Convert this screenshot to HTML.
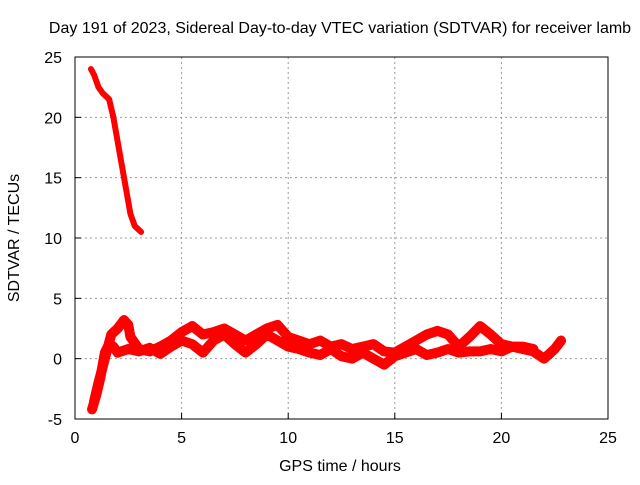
<!DOCTYPE html>
<html><head><meta charset="utf-8"><style>
body{margin:0;background:#fff}
svg{font-family:"Liberation Sans",sans-serif;font-size:16px}
</style></head><body>
<svg id="c" width="640" height="480">
<text x="340" y="33" text-anchor="middle">Day 191 of 2023, Sidereal Day-to-day VTEC variation (SDTVAR) for receiver lamb</text>
<text x="340" y="471" text-anchor="middle">GPS time / hours</text>
<text transform="translate(19,238) rotate(-90)" text-anchor="middle">SDTVAR / TECUs</text>
<g id="grid"></g><g id="marks"></g>
<rect x="75" y="57" width="533" height="362" fill="none" stroke="#000" stroke-width="1"/>
</svg>
<script>
const xTicks=[0,5,10,15,20,25];
const yTicks=[-5,0,5,10,15,20,25];
const tA=[0.75,0.9,1.1,1.3,1.6,1.8,2.0,2.2,2.4,2.6,2.8,3.1];
const vA=[24,23.5,22.5,22,21.5,20,18,16,14,12,11,10.5];
const tB=[0.8,1.0,1.2,1.4,1.6,1.8,2.0,2.5,3.0,3.5,4.0,4.5,5.0,5.5,6.0,6.5,7.0,7.5,8.0,8.5,9.0,9.5,10,10.5,11,11.5,12,12.5,13,13.5,14,14.5,15,15.5,16,16.5,17,17.5,18,18.5,19,19.5,20,20.5,21,21.5,22,22.5,22.8];
const vB=[-4.2,-3,-1.5,0.5,1.2,1.0,0.5,0.8,0.6,0.9,0.4,1.0,1.5,1.2,0.5,1.5,2.0,1.2,0.5,1.2,2.0,1.5,1.0,0.8,0.5,0.3,0.8,0.2,0.0,0.5,0.0,-0.5,0.2,0.5,0.8,0.3,0.5,0.8,0.5,0.6,0.6,0.8,0.6,1.0,0.8,0.6,0.0,0.8,1.5];
const tC=[0.9,1.1,1.4,1.7,2.0,2.3,2.5,2.6,3.0,3.5,4.0,4.5,5.0,5.5,6.0,6.5,7.0,7.5,8,8.5,9,9.5,10,10.5,11,11.5,12,12.5,13,13.5,14,14.5,15,15.5,16,16.5,17,17.5,18,18.5,19,19.5,20,20.5,21,21.5];
const vC=[-3.5,-2,0,2,2.5,3.2,2.8,1.8,0.8,0.6,1.0,1.5,2.2,2.7,2.0,2.2,2.5,2.0,1.5,2.0,2.5,2.8,1.8,1.5,1.2,1.5,1.0,1.2,0.8,1.0,1.2,0.6,0.5,1.0,1.5,2.0,2.3,2.0,1.0,1.8,2.7,2.0,1.2,1.0,1.0,0.8];
const X=v=>75+v*533/25, Y=v=>419-(v+5)*362/30;
const ns="http://www.w3.org/2000/svg";
const g=document.getElementById('grid'), m=document.getElementById('marks');
xTicks.forEach(t=>{
 if(t>0&&t<25){const l=document.createElementNS(ns,'line');
 
 
 l.setAttribute('x1',X(t));l.setAttribute('x2',X(t));l.setAttribute('y1',57);l.setAttribute('y2',419);
 l.setAttribute('stroke','#999');l.setAttribute('stroke-dasharray','2,3');g.appendChild(l);}
 const k=document.createElementNS(ns,'line');
 
 
 k.setAttribute('x1',X(t));k.setAttribute('x2',X(t));k.setAttribute('y1',419);k.setAttribute('y2',413);k.setAttribute('stroke','#000');g.appendChild(k);
 const s=document.createElementNS(ns,'text');
 
 
 s.setAttribute('x',X(t));s.setAttribute('y',443);s.setAttribute('text-anchor','middle');s.textContent=t;g.appendChild(s);
});
yTicks.forEach(t=>{
 if(t>-5&&t<25){const l=document.createElementNS(ns,'line');
 
 
 l.setAttribute('x1',75);l.setAttribute('x2',608);l.setAttribute('y1',Y(t));l.setAttribute('y2',Y(t));
 l.setAttribute('stroke','#999');l.setAttribute('stroke-dasharray','2,3');g.appendChild(l);}
 const k=document.createElementNS(ns,'line');
 
 
 k.setAttribute('x1',75);k.setAttribute('x2',81);k.setAttribute('y1',Y(t));k.setAttribute('y2',Y(t));k.setAttribute('stroke','#000');g.appendChild(k);
 const s=document.createElementNS(ns,'text');
 
 
 s.setAttribute('x',62);s.setAttribute('y',Y(t)+6);s.setAttribute('text-anchor','end');s.textContent=t;g.appendChild(s);
});
[[tA,vA,'series-early-decline',6],[tB,vB,'series-lower-track',10],[tC,vC,'series-upper-track',10]].forEach(([ts,vs,n,w])=>{
 const p=document.createElementNS(ns,'polyline');
 
 
 p.setAttribute('points',ts.map((t,i)=>X(t)+','+Y(vs[i])).join(' '));
 p.setAttribute('fill','none');p.setAttribute('stroke','#f00');p.setAttribute('stroke-width',w);p.setAttribute('stroke-linejoin','round');p.setAttribute('stroke-linecap','round');
 m.appendChild(p);
});
</script>
</body></html>
